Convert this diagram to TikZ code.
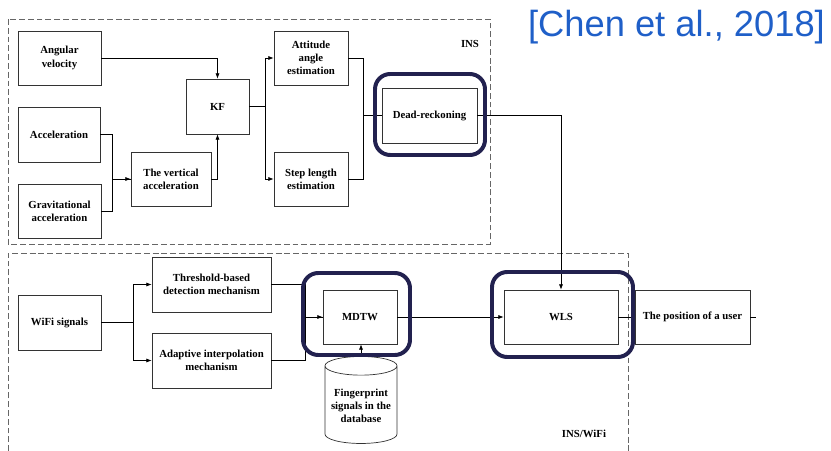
\documentclass[tikz,border=0pt]{standalone}
\usepackage{fontspec}
\setmainfont{Liberation Serif}
\newfontfamily\citefont{Liberation Sans}
\usepackage{tikz}
\usetikzlibrary{shapes.geometric}
\usetikzlibrary{arrows.meta}
\definecolor{citeblue}{HTML}{1F5FC8}
\definecolor{markblue}{HTML}{22214F}

\begin{document}
\begin{tikzpicture}[x=0.03cm, y=-0.03cm,
    blk/.style={draw=black!80, line width=0.6pt, fill=white, align=center, inner sep=1pt,
        font=\fontsize{9.2}{11.3}\selectfont\bfseries},
    grp/.style={draw=black!60, line width=0.6pt, dash pattern=on 5pt off 2.5pt},
    hilite/.style={draw=markblue, line width=3.4pt, rounded corners=13pt},
    arr/.style={-{Latex[length=4.5pt,width=3.5pt]}, line width=0.6pt},
    ln/.style={line width=0.6pt}
    ]
    \useasboundingbox (0,0) rectangle (831,451);

    % INS part
    \draw[grp] (8,19) rectangle (490,244);
    \node[font=\fontsize{9.2}{11}\selectfont\bfseries] (INS) at (470,44) {INS};
    \node[blk, minimum width=2.49cm, minimum height=1.62cm] (Ang) at (59.5,58) {Angular\\velocity};
    \node[blk, minimum width=2.46cm, minimum height=1.65cm] (Acc) at (59,134.5) {Acceleration};
    \node[blk, minimum width=2.49cm, minimum height=1.62cm] (Grav) at (59.5,211) {Gravitational\\acceleration};
    \node[blk, minimum width=2.4cm, minimum height=1.62cm] (Vert) at (171,179) {The vertical\\acceleration};
    \node[blk, minimum width=1.89cm, minimum height=1.65cm] (KF) at (217.5,106.5) {KF};
    \node[blk, minimum width=2.22cm, minimum height=1.62cm] (Att) at (311,58) {Attitude\\angle\\estimation};
    \node[blk, minimum width=2.22cm, minimum height=1.62cm] (Step) at (311,179) {Step length\\estimation};
    \node[blk, minimum width=2.85cm, minimum height=1.65cm] (DR) at (429.5,115.5) {Dead-reckoning};

    \draw[arr] (Ang.east) -| (KF.north);
    \draw[ln] (Acc.east) -- ++(12,0) |- (Vert.west);
    \draw[arr] (Grav.east) -- ++(11,0) |- (Vert.west);
    \draw[arr] (Vert.east) -| (KF.south);
    \draw[arr] (KF.east) -- ++(16,0) |- (Att.west);
    \draw[arr] (KF.east) -- ++(16,0) |- (Step.west);
    \draw[ln] (Att.east) -- ++(15,0) |- (DR.west);
    \draw[ln] (Step.east) -- ++(15,0) |- (DR.west);

    % INS/WiFi part
    \draw[grp] (8,451) |- (628,253) -- (628,451);
    \node[font=\fontsize{9.2}{11}\selectfont\bfseries] (INSWiFi) at (584,434) {INS/WiFi};
    \node[blk, minimum width=2.49cm, minimum height=1.65cm] (WiFi) at (59.5,322.5) {WiFi signals};
    \node[blk, minimum width=3.57cm, minimum height=1.65cm] (Thr) at (211.5,284.5) {Threshold-based\\detection mechanism};
    \node[blk, minimum width=3.57cm, minimum height=1.65cm] (Adp) at (211.5,360.5) {Adaptive interpolation\\mechanism};
    \node[blk, minimum width=2.22cm, minimum height=1.62cm] (MDTW) at (360,317) {MDTW};
    \node[blk, cylinder, shape border rotate=90, aspect=0.3, minimum width=2.16cm, minimum height=2.61cm] (FP) at (361,406) {Fingerprint\\signals in the\\database};
    \node[blk, minimum width=3.42cm, minimum height=1.62cm] (WLS) at (561,317) {WLS};
    \node[blk, minimum width=3.45cm, minimum height=1.62cm] (Pos) at (692.5,317) {The position of a user};
    \coordinate (out) at (756,317);

    \draw[arr] (WiFi.east) -- ++(32,0) |- (Thr.west);
    \draw[arr] (WiFi.east) -- ++(32,0) |- (Adp.west);
    \draw[ln] (Thr.east) -- ++(34,0) |- (MDTW.west);
    \draw[arr] (Adp.east) -- ++(34,0) |- (MDTW.west);
    \draw[arr] (FP.north) -- (FP.north |- MDTW.south);
    \draw[arr] (MDTW.east) -- (WLS.west);
    \draw[arr] (DR.east) -| (WLS.north);
    \draw[ln] (WLS.east) -- (Pos.west);
    \draw[ln] (Pos.east) -- (out);

    % hand-drawn marks
    \draw[hilite] (375,74) rectangle (485,155);
    \draw[hilite] (303,273) rectangle (410,355);
    \draw[hilite] (492,272) rectangle (633,357);

    \node[text=citeblue, font=\citefont\fontsize{31}{33}\selectfont, anchor=east] (cite) at (829,27) {[Chen et al., 2018]};
\end{tikzpicture}
\end{document}
